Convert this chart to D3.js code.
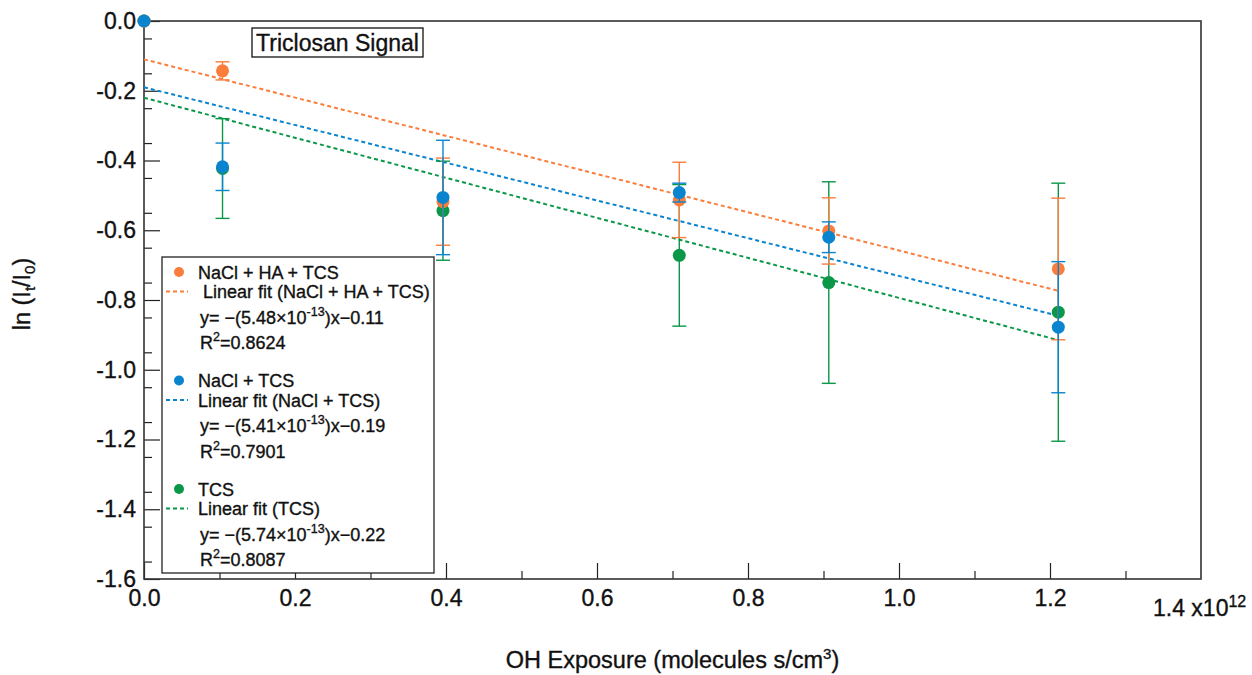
<!DOCTYPE html>
<html>
<head>
<meta charset="utf-8">
<script src="https://cdn.jsdelivr.net/npm/d3@7"></script>
<style>
    body { margin: 0; background: #fff; }
    svg { display: block; font-family: "Liberation Sans", Arial, Helvetica, sans-serif; }
    svg text { stroke: #111; stroke-width: 0.35px; }
</style>
</head>
<body>
<div id="chart"></div>
<script>

// OH exposure, in units of 10^12 molecules s/cm3
const exposure = [0, 0.104, 0.396, 0.709, 0.907, 1.211];

// ln(It/I0) and error for each run
const naclHaTcs = [0, -0.143, -0.518, -0.513, -0.602, -0.711];
const naclHaTcsErr = [0, 0.026, 0.125, 0.108, 0.095, 0.203];
const naclTcs = [0, -0.418, -0.506, -0.492, -0.620, -0.878];
const naclTcsErr = [0, 0.068, 0.164, 0.027, 0.044, 0.188];
const tcs = [0, -0.423, -0.544, -0.672, -0.750, -0.835];
const tcsErr = [0, 0.143, 0.142, 0.203, 0.289, 0.370];

const seriesNames = ["NaCl + HA + TCS", "NaCl + TCS", "TCS"];
const fitNames = [" Linear fit (NaCl + HA + TCS)", "Linear fit (NaCl + TCS)", "Linear fit (TCS)"];
const fitSlopes = [-0.548, -0.541, -0.574];      // per 10^12
const fitIntercepts = [-0.11, -0.19, -0.22];
const fitSlopeText = ["5.48", "5.41", "5.74"];
const fitInterceptText = ["0.11", "0.19", "0.22"];
const fitR2 = ["0.8624", "0.7901", "0.8087"];

const xTicks = [0, 0.2, 0.4, 0.6, 0.8, 1.0, 1.2];
const yTicks = [0, -0.2, -0.4, -0.6, -0.8, -1.0, -1.2, -1.4, -1.6];


class FitChart {

    constructor(parentElement) {
        this.parentElement = parentElement;
        this.colors = ["#fb7d3c", "#0a84cf", "#0a9748"];
        this.series = [
            {name: seriesNames[0], y: naclHaTcs, err: naclHaTcsErr},
            {name: seriesNames[1], y: naclTcs, err: naclTcsErr},
            {name: seriesNames[2], y: tcs, err: tcsErr}
        ];
        this.initVis();
    }

    initVis() {
        let vis = this;

        vis.margin = {top: 21, right: 51, bottom: 96, left: 144};
        vis.width = 1252 - vis.margin.left - vis.margin.right;
        vis.height = 675 - vis.margin.top - vis.margin.bottom;

        vis.svg = d3.select("#" + vis.parentElement).append("svg")
            .attr("width", 1252)
            .attr("height", 675)
            .append("g")
            .attr("transform", `translate(${vis.margin.left}, ${vis.margin.top})`);

        vis.x = d3.scaleLinear()
            .domain([0, 1.4])
            .range([0, vis.width]);
        vis.y = d3.scaleLinear()
            .domain([-1.6, 0])
            .range([vis.height, 0]);

        // minor ticks first, then the labelled ones
        vis.svg.append("g")
            .attr("class", "x-minor")
            .attr("transform", `translate(0, ${vis.height})`)
            .call(d3.axisBottom(vis.x).tickValues(d3.range(0.1, 1.4, 0.2)).tickSize(-8).tickFormat(""));
        vis.svg.append("g")
            .attr("class", "y-minor")
            .call(d3.axisLeft(vis.y).tickValues(d3.range(-0.05, -1.6, -0.1)).tickSize(-8).tickFormat(""));

        vis.svg.append("g")
            .attr("class", "x-axis axis")
            .attr("transform", `translate(0, ${vis.height})`)
            .call(d3.axisBottom(vis.x).tickValues(xTicks).tickSize(-16).tickPadding(7)
                .tickFormat(d => d.toFixed(1)));
        vis.svg.append("g")
            .attr("class", "y-axis axis")
            .call(d3.axisLeft(vis.y).tickValues(yTicks).tickSize(-16).tickPadding(8)
                .tickFormat(d => d.toFixed(1)));

        vis.svg.selectAll(".domain").remove();
        vis.svg.selectAll(".tick line").attr("stroke", "#222").attr("stroke-width", 1.2);
        vis.svg.selectAll(".axis text").attr("font-size", 23).attr("fill", "#111");
        vis.svg.selectAll(".x-axis text").attr("dy", "0.88em");

        // frame
        vis.svg.append("rect")
            .attr("width", vis.width)
            .attr("height", vis.height)
            .attr("fill", "none")
            .attr("stroke", "#333")
            .attr("stroke-width", 1.6);

        // the 1.4 x10^12 label sits a little lower than the rest
        let xl = vis.svg.append("text")
            .attr("x", vis.x(1.4) - 48)
            .attr("y", vis.height + 37)
            .attr("font-size", 23)
            .attr("fill", "#111");
        xl.append("tspan").text("1.4 x10");
        xl.append("tspan").attr("dy", -9).attr("font-size", 16).text("12");

        // axis titles
        let xt = vis.svg.append("text")
            .attr("x", vis.width / 2)
            .attr("y", vis.height + 89)
            .attr("text-anchor", "middle")
            .attr("font-size", 23.5)
            .attr("fill", "#111");
        xt.append("tspan").text("OH Exposure (molecules s/cm");
        xt.append("tspan").attr("dy", -9).attr("font-size", 15).text("3");
        xt.append("tspan").attr("dy", 9).text(")");

        let yt = vis.svg.append("text")
            .attr("transform", `translate(${-114}, ${vis.height / 2 - 6}) rotate(-90)`)
            .attr("text-anchor", "middle")
            .attr("font-size", 23.5)
            .attr("fill", "#111");
        yt.append("tspan").text("ln (I");
        yt.append("tspan").attr("dy", 5).attr("font-size", 15).text("t");
        yt.append("tspan").attr("dy", -5).text("/I");
        yt.append("tspan").attr("dy", 5).attr("font-size", 15).text("0");
        yt.append("tspan").attr("dy", -5).text(")");

        vis.updateVis();
    }

    updateVis() {
        let vis = this;

        // fit lines
        vis.series.forEach((s, i) => {
            let xs = [0, exposure[exposure.length - 1]];
            vis.svg.append("path")
                .datum(xs)
                .attr("fill", "none")
                .attr("stroke", vis.colors[i])
                .attr("stroke-width", 2)
                .attr("stroke-dasharray", "4,3")
                .attr("d", d3.line()
                    .x(d => vis.x(d))
                    .y(d => vis.y(fitIntercepts[i] + fitSlopes[i] * d)));
        });

        // green first, then orange, blue on top
        [2, 0, 1].forEach(i => {
            let s = vis.series[i];
            let pts = exposure.map((x, j) => ({x: x, y: s.y[j], e: s.err[j]})).filter(d => d.e > 0);
            let g = vis.svg.append("g").attr("stroke", vis.colors[i]).attr("stroke-width", 1.4);
            g.selectAll(".bar").data(pts).enter().append("line")
                .attr("x1", d => vis.x(d.x)).attr("x2", d => vis.x(d.x))
                .attr("y1", d => vis.y(d.y + d.e)).attr("y2", d => vis.y(d.y - d.e));
            g.selectAll(".cap-top").data(pts).enter().append("line")
                .attr("x1", d => vis.x(d.x) - 7).attr("x2", d => vis.x(d.x) + 7)
                .attr("y1", d => vis.y(d.y + d.e)).attr("y2", d => vis.y(d.y + d.e));
            g.selectAll(".cap-bot").data(pts).enter().append("line")
                .attr("x1", d => vis.x(d.x) - 7).attr("x2", d => vis.x(d.x) + 7)
                .attr("y1", d => vis.y(d.y - d.e)).attr("y2", d => vis.y(d.y - d.e));
            vis.svg.append("g").selectAll("circle")
                .data(exposure.map((x, j) => ({x: x, y: s.y[j]})))
                .enter().append("circle")
                .attr("cx", d => vis.x(d.x))
                .attr("cy", d => vis.y(d.y))
                .attr("r", 6.5)
                .attr("fill", vis.colors[i]);
        });

        // title box
        let tb = vis.svg.append("g").attr("transform", "translate(108, 7)");
        tb.append("rect")
            .attr("width", 171)
            .attr("height", 29)
            .attr("fill", "#fff")
            .attr("stroke", "#111")
            .attr("stroke-width", 1.3);
        tb.append("text")
            .attr("x", 85.5)
            .attr("y", 22.5)
            .attr("text-anchor", "middle")
            .attr("font-size", 23)
            .attr("fill", "#111")
            .text("Triclosan Signal");

        vis.drawLegend();
    }

    drawLegend() {
        let vis = this;
        let lg = vis.svg.append("g").attr("transform", "translate(18, 236)");
        lg.append("rect")
            .attr("width", 272)
            .attr("height", 316)
            .attr("fill", "#fff")
            .attr("stroke", "#222")
            .attr("stroke-width", 1.3);

        vis.series.forEach((s, i) => {
            let top = 15 + i * 108.5;
            let g = lg.append("g")
                .attr("transform", `translate(0, ${top})`)
                .attr("font-size", 18)
                .attr("fill", "#111");

            g.append("circle").attr("cx", 17).attr("cy", 0).attr("r", 5).attr("fill", vis.colors[i]);
            g.append("text").attr("x", 36).attr("y", 6.5).text(s.name);

            g.append("line")
                .attr("x1", 4).attr("x2", 26).attr("y1", 19.5).attr("y2", 19.5)
                .attr("stroke", vis.colors[i]).attr("stroke-width", 2)
                .attr("stroke-dasharray", "4,3");
            g.append("text").attr("x", 36).attr("y", 26)
                .style("white-space", "pre").text(fitNames[i]);

            let eq = g.append("text").attr("x", 38).attr("y", 51.5);
            eq.append("tspan").text("y= \u2212(" + fitSlopeText[i] + "\u00d710");
            eq.append("tspan").attr("dy", -8).attr("font-size", 12.5).text("-13");
            eq.append("tspan").attr("dy", 8).text(")x\u2212" + fitInterceptText[i]);

            let r2 = g.append("text").attr("x", 38).attr("y", 77);
            r2.append("tspan").text("R");
            r2.append("tspan").attr("dy", -8).attr("font-size", 12.5).text("2");
            r2.append("tspan").attr("dy", 8).text("=" + fitR2[i]);
        });
    }
}

new FitChart("chart");

</script>
</body>
</html>
